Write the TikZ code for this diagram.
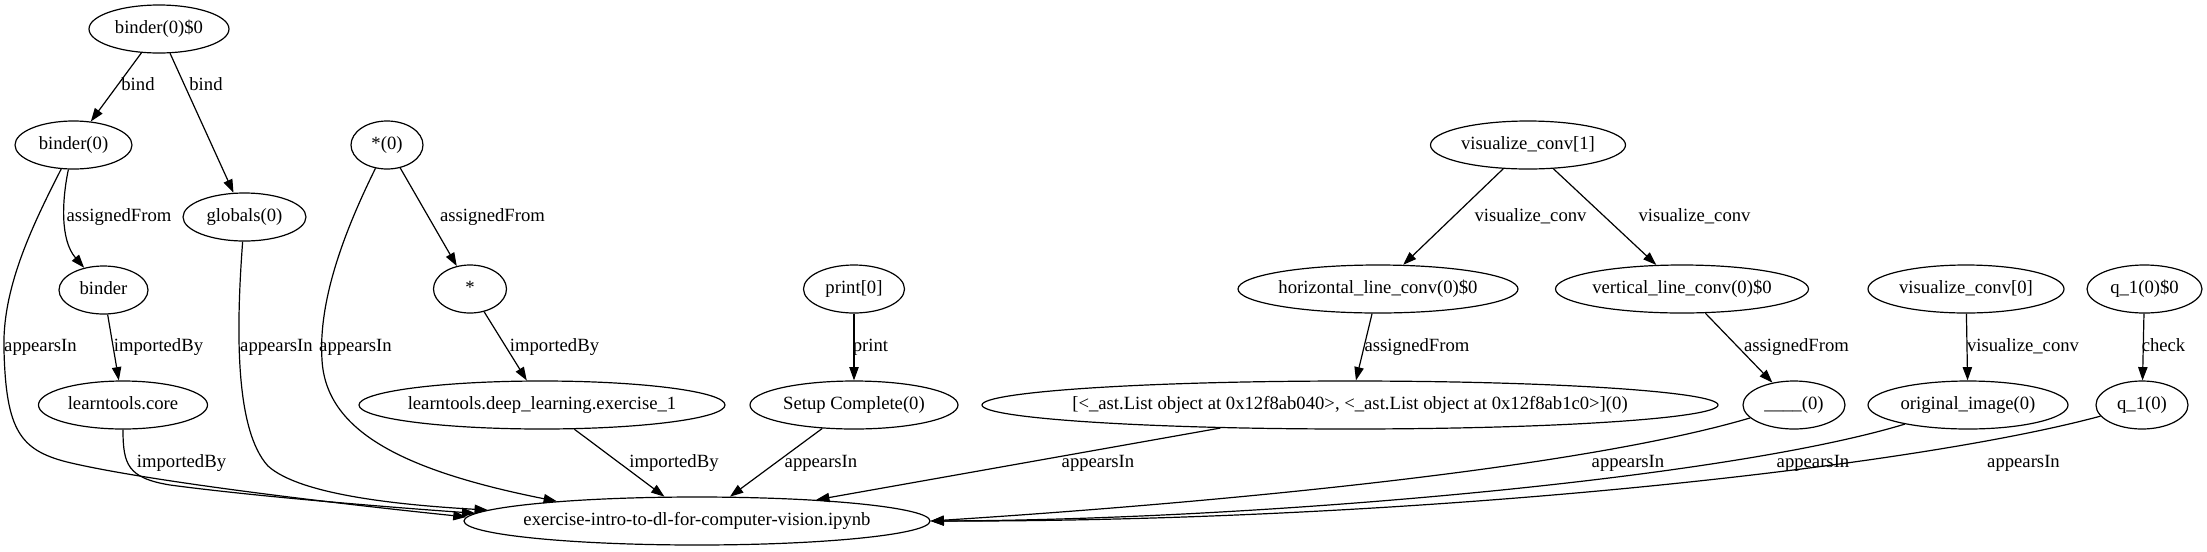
\documentclass[tikz,border=0pt]{standalone}
\usepackage{fontspec}
\setmainfont{Liberation Serif}
\usetikzlibrary{arrows.meta,shapes.geometric}
\begin{document}
\begin{tikzpicture}[x=0.75pt,y=-0.75pt,
  every node/.append style={font=\fontsize{14pt}{16pt}\selectfont},
  nd/.style={draw, ellipse, line width=0.9pt, inner xsep=-40pt, inner ysep=0pt,
    minimum height=36pt, text height=9.5pt, text depth=3pt},
  lbl/.style={inner sep=0pt, text height=9.5pt, text depth=3pt},
  edge/.style={line width=0.9pt, -{Triangle[length=10pt,width=7pt]}}]
\useasboundingbox (0,0) rectangle (2207,551);
% nodes
\node[nd, minimum width=105pt]    (b00)    at (159,29)    {binder(0)\$0};
\node[nd, minimum width=87.75pt]  (b0)     at (73.5,145)  {binder(0)};
\node[nd, minimum width=92.25pt]  (glob)   at (244.5,217) {globals(0)};
\node[nd, minimum width=54pt]     (star0)  at (387,145)   {*(0)};
\node[nd, minimum width=66.75pt]  (binder) at (103.5,290) {binder};
\node[nd, minimum width=54.75pt]  (star)   at (470,289)   {*};
\node[nd, minimum width=126.75pt] (lc)     at (123,405)   {learntools.core};
\node[nd, minimum width=274.5pt]  (ldl)    at (542,405)   {learntools.deep\_learning.exercise\_1};
\node[nd, minimum width=75.75pt]  (prt)    at (854,289)   {print[0]};
\node[nd, minimum width=156pt]    (setup)  at (854,405)   {Setup Complete(0)};
\node[nd, minimum width=146.25pt] (vc1)    at (1528,145)  {visualize\_conv[1]};
\node[nd, minimum width=210pt]    (hlc)    at (1378,289)  {horizontal\_line\_conv(0)\$0};
\node[nd, minimum width=189.75pt] (vlc)    at (1682,289)  {vertical\_line\_conv(0)\$0};
\node[nd, minimum width=552pt]    (ast)    at (1350,405)  {[<\_ast.List object at 0x12f8ab040>, <\_ast.List object at 0x12f8ab1c0>](0)};
\node[nd, minimum width=76.5pt]   (us)     at (1794,405)  {\_\_\_\_(0)};
\node[nd, minimum width=147pt]    (vc0)    at (1966,289)  {visualize\_conv[0]};
\node[nd, minimum width=150pt]    (orig)   at (1968,405)  {original\_image(0)};
\node[nd, minimum width=86.25pt]  (q10)    at (2144.5,289) {q\_1(0)\$0};
\node[nd, minimum width=69pt]     (q1)     at (2142,405)  {q\_1(0)};
\node[nd, minimum width=349.5pt]  (ex)     at (697,521)   {exercise-intro-to-dl-for-computer-vision.ipynb};
% edges
\draw[edge] (b00) -- (b0);
\draw[edge] (b00) -- (glob);
\draw[edge] (b0) .. controls (62,200) and (60,240) .. (binder);
\draw[edge] (b0) .. controls (30,230) and (2,290) .. (4,350) .. controls (6,430) and (20,450) .. (67,462) .. controls (150,482) and (350,505) .. (ex.179);
\draw[edge] (binder) -- (lc);
\draw[edge] (lc.south) .. controls (123,465) and (128,478) .. (170,485) .. controls (260,497) and (400,508) .. (ex.178);
\draw[edge] (glob) .. controls (236,330) and (235,430) .. (268,466) .. controls (300,495) and (400,505) .. (ex.177);
\draw[edge] (star0) .. controls (345,230) and (318,300) .. (322,360) .. controls (326,430) and (400,470) .. (ex.172);
\draw[edge] (star0) -- (star);
\draw[edge] (star) -- (ldl);
\draw[edge] (ldl) -- (ex);
\draw[edge] (prt) -- (setup);
\draw[edge] (setup) -- (ex);
\draw[edge] (vc1) -- (hlc);
\draw[edge] (vc1) -- (vlc);
\draw[edge] (hlc) -- (ast);
\draw[edge] (vlc) -- (us);
\draw[edge] (vc0) -- (orig);
\draw[edge] (q10) -- (q1);
\draw[edge] (ast) -- (ex);
\draw[edge] (us) .. controls (1560,474) and (1150,507) .. (ex.east);
\draw[edge] (orig) .. controls (1720,480) and (1250,520) .. (ex.east);
\draw[edge] (q1) .. controls (1900,470) and (1400,522) .. (ex.east);
% edge labels
\node[lbl] (l1)  at (138,86)    {bind};
\node[lbl] (l2)  at (206,86)    {bind};
\node[lbl] (l3)  at (119,217)   {assignedFrom};
\node[lbl] (l4)  at (40.5,347)  {appearsIn};
\node[lbl] (l5)  at (158.5,347) {importedBy};
\node[lbl] (l6)  at (276.5,347) {appearsIn};
\node[lbl] (l7)  at (355.5,347) {appearsIn};
\node[lbl] (l8)  at (181.5,463) {importedBy};
\node[lbl] (l9)  at (492.5,217) {assignedFrom};
\node[lbl] (l10) at (554.5,347) {importedBy};
\node[lbl] (l11) at (674,463)   {importedBy};
\node[lbl] (l12) at (870.5,347) {print};
\node[lbl] (l13) at (821,463)   {appearsIn};
\node[lbl] (l14) at (1530.5,217) {visualize\_conv};
\node[lbl] (l15) at (1694.5,217) {visualize\_conv};
\node[lbl] (l16) at (1417,347)  {assignedFrom};
\node[lbl] (l17) at (1796.5,347) {assignedFrom};
\node[lbl] (l18) at (2023,347)  {visualize\_conv};
\node[lbl] (l19) at (2163.5,347) {check};
\node[lbl] (l20) at (1098,463)  {appearsIn};
\node[lbl] (l21) at (1628,463)  {appearsIn};
\node[lbl] (l22) at (1813,463)  {appearsIn};
\node[lbl] (l23) at (2023.5,463) {appearsIn};
\end{tikzpicture}
\end{document}
